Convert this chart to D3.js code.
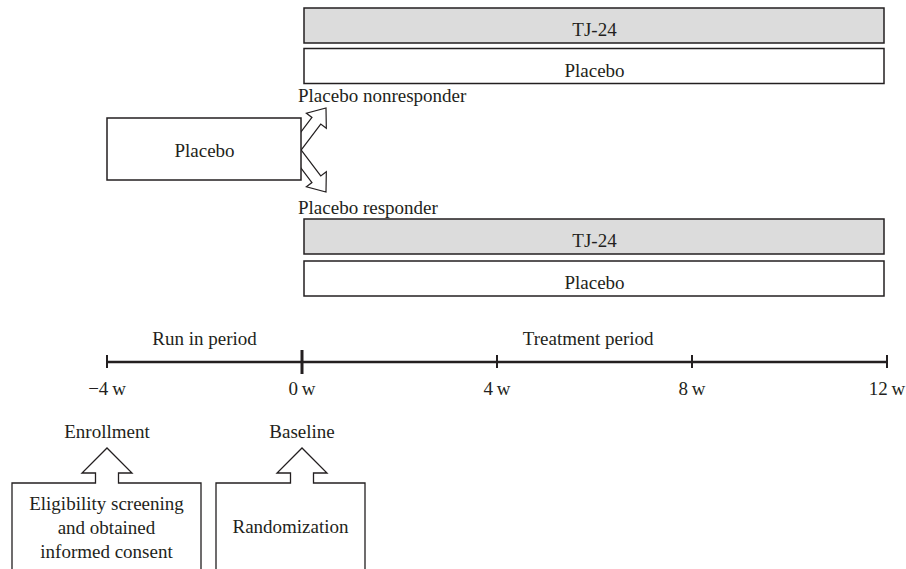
<!DOCTYPE html>
<html><head><meta charset="utf-8">
<script src="https://cdn.jsdelivr.net/npm/d3@7"></script>
<style>body{margin:0;background:#fff}svg{display:block}text{font-family:"Liberation Serif","DejaVu Serif",serif;fill:#231f20}</style>
</head><body><svg id="c" width="906" height="569"></svg>
<script>
// ---- data ----
const weekTicks = [-4, 0, 4, 8, 12];
const weekLabels = ["\u22124\u2009w", "0\u2009w", "4\u2009w", "8\u2009w", "12\u2009w"];
const periods = ["Run in period", "Treatment period"];
const periodCenters = [-2, 5.87];
const nonresponderArms = ["TJ-24", "Placebo"];
const responderArms = ["TJ-24", "Placebo"];
const armFills = ["#dcdcdc", "#ffffff"];
const runInLabel = "Placebo";
const groupLabels = ["Placebo nonresponder", "Placebo responder"];
const milestones = [
  {week: -4, title: "Enrollment", lines: ["Eligibility screening", "and obtained", "informed consent"]},
  {week: 0, title: "Baseline", lines: ["Randomization"]}
];

const svg = d3.select("#c");
const ink = "#231f20";
const x = d3.scaleLinear().domain([-4, 12]).range([107, 887]);
const fs = 19;

// hollow arrow
function hollowArrow(x0, y0, x1, y1, sw, hw, hl) {
  const dx = x1 - x0, dy = y1 - y0, L = Math.hypot(dx, dy);
  const ux = dx / L, uy = dy / L, px = -uy, py = ux;
  const pt = (a, b) => [x0 + ux * a + px * b, y0 + uy * a + py * b];
  const pts = [pt(0, -sw/2), pt(L - hl, -sw/2), pt(L - hl, -hw/2), pt(L, 0), pt(L - hl, hw/2), pt(L - hl, sw/2), pt(0, sw/2)];
  return "M" + pts.map(p => p.join(",")).join("L") + "Z";
}

// arrows from run-in placebo box (drawn first, box covers base)
svg.append("path").attr("d", hollowArrow(295, 149, 326, 108, 11, 25, 16))
  .attr("fill", "#fff").attr("stroke", ink).attr("stroke-width", 1.2);
svg.append("path").attr("d", hollowArrow(295, 151, 326, 192, 11, 25, 16))
  .attr("fill", "#fff").attr("stroke", ink).attr("stroke-width", 1.2);

// run-in box
svg.append("rect").attr("x", x(-4)).attr("y", 118).attr("width", x(0) - x(-4) - 1).attr("height", 62)
  .attr("fill", "#fff").attr("stroke", ink).attr("stroke-width", 1.5);
svg.append("text").attr("x", (x(-4) + x(0)) / 2).attr("y", 157).attr("text-anchor", "middle").attr("font-size", fs).text(runInLabel);

// arm boxes
function armBoxes(arms, tops) {
  arms.forEach((a, i) => {
    svg.append("rect").attr("x", x(0) + 2).attr("y", tops[i]).attr("width", x(12) - x(0) - 5).attr("height", 35)
      .attr("fill", armFills[i]).attr("stroke", ink).attr("stroke-width", 1.5);
    svg.append("text").attr("x", (x(0) + x(12)) / 2).attr("y", tops[i] + 28).attr("text-anchor", "middle")
      .attr("font-size", fs).text(a);
  });
}
armBoxes(nonresponderArms, [8, 48.5]);
armBoxes(responderArms, [219, 261]);

svg.append("text").attr("x", 298).attr("y", 102).attr("font-size", fs).text(groupLabels[0]);
svg.append("text").attr("x", 298).attr("y", 214).attr("font-size", fs).text(groupLabels[1]);

// timeline
const ty = 362;
svg.append("line").attr("x1", x(-4)).attr("x2", x(12)).attr("y1", ty).attr("y2", ty).attr("stroke", ink).attr("stroke-width", 2.5);
weekTicks.forEach((w, i) => {
  const big = w === 0;
  svg.append("line").attr("x1", x(w)).attr("x2", x(w)).attr("y1", big ? ty - 12 : ty - 7).attr("y2", big ? ty + 12 : ty + 6)
    .attr("stroke", ink).attr("stroke-width", big ? 3 : 2);
  svg.append("text").attr("x", x(w)).attr("y", 395).attr("text-anchor", "middle").attr("font-size", fs).text(weekLabels[i]);
});
periods.forEach((p, i) => {
  svg.append("text").attr("x", x(periodCenters[i])).attr("y", 345).attr("text-anchor", "middle").attr("font-size", fs).text(p);
});

// milestones
const boxes = [[12, 201], [216, 365]];
milestones.forEach((m, i) => {
  const cx = x(m.week);
  svg.append("text").attr("x", cx).attr("y", 438).attr("text-anchor", "middle").attr("font-size", fs).text(m.title);
  const [bl, br] = boxes[i];
  const top = 483, hb = 473, tip = 448, sw = 11.5, hw = 25;
  const d = `M${bl},570 L${bl},${top} L${cx - sw},${top} L${cx - sw},${hb} L${cx - hw},${hb} L${cx},${tip} L${cx + hw},${hb} L${cx + sw},${hb} L${cx + sw},${top} L${br},${top} L${br},570`;
  svg.append("path").attr("d", d).attr("fill", "#fff").attr("stroke", ink).attr("stroke-width", 1.3);
  const bc = (bl + br) / 2;
  const ys = m.lines.length === 1 ? [533] : [510, 534, 558];
  m.lines.forEach((t, j) => svg.append("text").attr("x", bc).attr("y", ys[j]).attr("text-anchor", "middle").attr("font-size", fs).text(t));
});
</script></body></html>
